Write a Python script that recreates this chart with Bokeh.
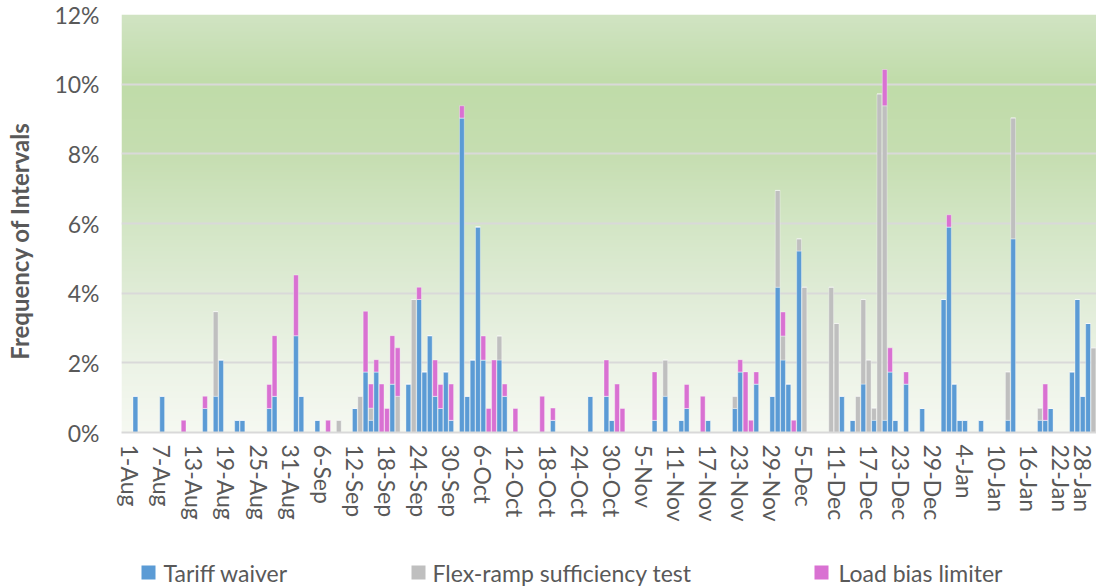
import numpy as np
import pandas as pd
from bokeh.plotting import figure
from bokeh.layouts import column
from bokeh.models import Range1d, FixedTicker, ColumnDataSource
from bokeh.core.properties import value
from bokeh.embed import file_html
from bokeh.resources import INLINE

# ---------------- data (percent of 5-minute intervals per day) ----------------
series_names = ["Tariff waiver", "Flex-ramp sufficiency test", "Load bias limiter"]

days_aug = ["2-Aug", "7-Aug", "11-Aug", "15-Aug", "17-Aug", "18-Aug", "21-Aug", "22-Aug", "27-Aug", "28-Aug"]
tariff_aug = [1.04, 1.04, 0, 0.69, 1.04, 2.08, 0.35, 0.35, 0.69, 1.04]
flex_aug = [0, 0, 0, 0, 2.43, 0, 0, 0, 0, 0]
load_aug = [0, 0, 0.35, 0.35, 0, 0, 0, 0, 0.69, 1.74]

days_sep = ["1-Sep", "2-Sep", "5-Sep", "7-Sep", "9-Sep", "12-Sep", "13-Sep", "14-Sep", "15-Sep", "16-Sep",
            "17-Sep", "18-Sep", "19-Sep", "20-Sep", "22-Sep", "23-Sep", "24-Sep", "25-Sep", "26-Sep", "27-Sep",
            "28-Sep", "29-Sep", "30-Sep"]
tariff_sep = [2.78, 1.04, 0.35, 0, 0, 0.69, 0, 1.74, 0.35, 1.74,
              0, 0, 1.39, 0, 1.39, 0, 3.82, 1.74, 2.78, 1.04,
              0.69, 1.74, 0.35]
flex_sep = [0, 0, 0, 0, 0.35, 0, 1.04, 0, 0.35, 0,
            0, 0, 0, 1.04, 0, 3.82, 0, 0, 0, 0,
            0, 0, 0]
load_sep = [1.74, 0, 0, 0.35, 0, 0, 0, 1.74, 0.69, 0.35,
            1.39, 0.69, 1.39, 1.39, 0, 0, 0.35, 0, 0, 1.04,
            0.69, 0, 1.04]

days_oct = ["2-Oct", "3-Oct", "4-Oct", "5-Oct", "6-Oct", "7-Oct", "8-Oct", "9-Oct", "10-Oct", "12-Oct",
            "17-Oct", "19-Oct", "26-Oct", "29-Oct", "30-Oct", "31-Oct"]
tariff_oct = [9.03, 1.04, 2.08, 5.90, 2.08, 0, 0, 2.08, 1.04, 0, 0, 0.35, 1.04, 1.04, 0.35, 0]
flex_oct = [0, 0, 0, 0, 0, 0, 0, 0.69, 0, 0, 0, 0, 0, 0, 0, 0]
load_oct = [0.35, 0, 0, 0, 0.69, 0.69, 2.08, 0, 0.35, 0.69, 1.04, 0.35, 0, 1.04, 0, 1.39]

days_nov = ["1-Nov", "7-Nov", "9-Nov", "12-Nov", "13-Nov", "16-Nov", "17-Nov", "22-Nov", "23-Nov", "24-Nov",
            "25-Nov", "26-Nov", "29-Nov", "30-Nov"]
tariff_nov = [0, 0.35, 1.04, 0.35, 0.69, 0, 0.35, 0.69, 1.74, 0, 0, 1.39, 1.04, 4.17]
flex_nov = [0, 0, 1.04, 0, 0, 0, 0, 0.35, 0, 0, 0, 0, 0, 2.78]
load_nov = [0.69, 1.39, 0, 0, 0.69, 1.04, 0, 0, 0.35, 1.74, 0.35, 0.35, 0, 0]

days_dec = ["1-Dec", "2-Dec", "3-Dec", "4-Dec", "5-Dec", "10-Dec", "11-Dec", "12-Dec", "14-Dec", "15-Dec",
            "16-Dec", "17-Dec", "18-Dec", "19-Dec", "20-Dec", "21-Dec", "22-Dec", "24-Dec", "27-Dec", "31-Dec"]
tariff_dec = [2.08, 1.39, 0, 5.21, 0, 0, 0, 1.04, 0.35, 0,
              1.39, 0, 0.35, 0, 0.35, 1.74, 0.35, 1.39, 0.69, 3.82]
flex_dec = [0.69, 0, 0, 0.35, 4.17, 4.17, 3.13, 0, 0, 1.04,
            2.43, 2.08, 0.35, 9.72, 9.03, 0, 0, 0, 0, 0]
load_dec = [0.69, 0, 0.35, 0, 0, 0, 0, 0, 0, 0,
            0, 0, 0, 0, 1.04, 0.69, 0, 0.35, 0, 0]

days_jan = ["1-Jan", "2-Jan", "3-Jan", "4-Jan", "7-Jan", "12-Jan", "13-Jan", "18-Jan", "19-Jan", "20-Jan",
            "24-Jan", "25-Jan", "26-Jan", "27-Jan", "28-Jan"]
tariff_jan = [5.90, 1.39, 0.35, 0.35, 0.35, 0.35, 5.56, 0.35, 0.35, 0.69, 1.74, 3.82, 1.04, 3.13, 0]
flex_jan = [0, 0, 0, 0, 0, 1.39, 3.47, 0.35, 0, 0, 0, 0, 0, 0, 2.43]
load_jan = [0.35, 0, 0, 0, 0, 0, 0, 0, 1.04, 0, 0, 0, 0, 0, 0]

tick_labels = ["1-Aug", "7-Aug", "13-Aug", "19-Aug", "25-Aug", "31-Aug", "6-Sep", "12-Sep", "18-Sep",
               "24-Sep", "30-Sep", "6-Oct", "12-Oct", "18-Oct", "24-Oct", "30-Oct", "5-Nov", "11-Nov",
               "17-Nov", "23-Nov", "29-Nov", "5-Dec", "11-Dec", "17-Dec", "23-Dec", "29-Dec", "4-Jan",
               "10-Jan", "16-Jan", "22-Jan", "28-Jan"]
y_ticks = [0, 2, 4, 6, 8, 10, 12]

# ---------------- build ----------------
calendar = [f"{d.day}-{d.strftime('%b')}" for d in pd.date_range("2018-08-01", "2019-01-31")]
pos = {lab: i for i, lab in enumerate(calendar)}

days = days_aug + days_sep + days_oct + days_nov + days_dec + days_jan
tariff = tariff_aug + tariff_sep + tariff_oct + tariff_nov + tariff_dec + tariff_jan
flex = flex_aug + flex_sep + flex_oct + flex_nov + flex_dec + flex_jan
load = load_aug + load_sep + load_oct + load_nov + load_dec + load_jan

src = ColumnDataSource(dict(x=[pos[d] for d in days], tariff=tariff, flex=flex, load=load))

FONT = "Lato"
TXT = "#595959"
colors = ["#5b9bd5", "#bfbfbf", "#d971d2"]
W = 1096
LEFT = 121

X0, X1 = -1.6, 180.57
p = figure(width=W, height=534, output_backend="svg", toolbar_location=None,
           x_range=Range1d(X0, X1), y_range=Range1d(0, 12),
           min_border_left=LEFT, min_border_right=0, min_border_top=14, min_border_bottom=102,
           border_fill_color="white", background_fill_color="white", outline_line_color=None)

# background gradient of the plot area
stops_y = [0, 2, 4, 6, 8, 10, 12]
stops_c = ["#f6f9f2", "#ecf3e6", "#e0ecd7", "#d3e6c5", "#c6deb1", "#c0dca9", "#d1e4c3"]
N = 420
yy = np.linspace(0, 12, N)
rgb = np.array([[int(c[i:i + 2], 16) for i in (1, 3, 5)] for c in stops_c], dtype=float)
cols = np.stack([np.interp(yy, stops_y, rgb[:, k]) for k in range(3)], axis=1).astype(np.uint32)
img = np.empty((N, 1), dtype=np.uint32)
img[:, 0] = (255 << 24) | (cols[:, 2] << 16) | (cols[:, 1] << 8) | cols[:, 0]
bg = p.image_rgba(image=[img], x=X0, y=0, dw=X1 - X0, dh=12)
bg.level = "image"

p.vbar_stack(["tariff", "flex", "load"], x="x", width=0.9, color=colors, source=src,
             line_color="white", line_alpha=0.45, line_width=0.8)

# y axis
p.yaxis.ticker = FixedTicker(ticks=y_ticks)
p.yaxis.major_label_overrides = {t: f"{t}%" for t in y_ticks}
p.yaxis.axis_line_color = None
p.yaxis.major_tick_line_color = None
p.yaxis.minor_tick_line_color = None
p.yaxis.major_tick_out = 0
p.yaxis.major_tick_in = 0
p.yaxis.major_label_standoff = 22
p.yaxis.major_label_text_font = FONT
p.yaxis.major_label_text_font_size = "23px"
p.yaxis.major_label_text_color = TXT
p.yaxis.axis_label = "Frequency of Intervals" + "\u00a0" * 6
p.yaxis.axis_label_text_font = FONT
p.yaxis.axis_label_text_font_style = "bold"
p.yaxis.axis_label_text_font_size = "24px"
p.yaxis.axis_label_text_color = TXT
p.yaxis.axis_label_standoff = 17

# x axis
p.xaxis.ticker = FixedTicker(ticks=[pos[t] for t in tick_labels])
p.xaxis.major_label_overrides = {pos[t]: t for t in tick_labels}
p.xaxis.major_label_orientation = "vertical"
p.xaxis.axis_line_color = "#d9d9d9"
p.xaxis.axis_line_width = 2
p.xaxis.major_tick_line_color = None
p.xaxis.minor_tick_line_color = None
p.xaxis.major_tick_out = 0
p.xaxis.major_tick_in = 0
p.xaxis.major_label_standoff = 12
p.xaxis.major_label_text_font = FONT
p.xaxis.major_label_text_font_size = "23px"
p.xaxis.major_label_text_color = TXT

p.xgrid.grid_line_color = None
p.ygrid.grid_line_color = "#d9d9d9"
p.ygrid.grid_line_width = 2

# ---------------- legend strip below the chart (frame-pixel coordinates) ----------------
LH = 54
FW = W - LEFT
lg = figure(width=W, height=LH, output_backend="svg", toolbar_location=None,
            x_range=Range1d(0, FW), y_range=Range1d(0, LH),
            min_border_left=LEFT, min_border_right=0, min_border_top=0, min_border_bottom=0,
            border_fill_color="white", background_fill_color="white", outline_line_color=None)
lg.axis.visible = False
lg.grid.visible = False
swatch_x = [27, 297, 700]
label_x = [42, 311, 717]
row_y = [16, 16, 16]
lg.rect(x=swatch_x, y=row_y, width=14, height=14, fill_color=colors, line_color=None)
lg.text(x=label_x, y=[r - 0.5 for r in row_y], text=series_names, text_font=value(FONT),
        text_font_size=value("23px"), text_color=TXT, text_baseline="middle", text_align="left")

layout = column(p, lg, spacing=0)
open("out.html", "w").write(file_html(layout, INLINE))
